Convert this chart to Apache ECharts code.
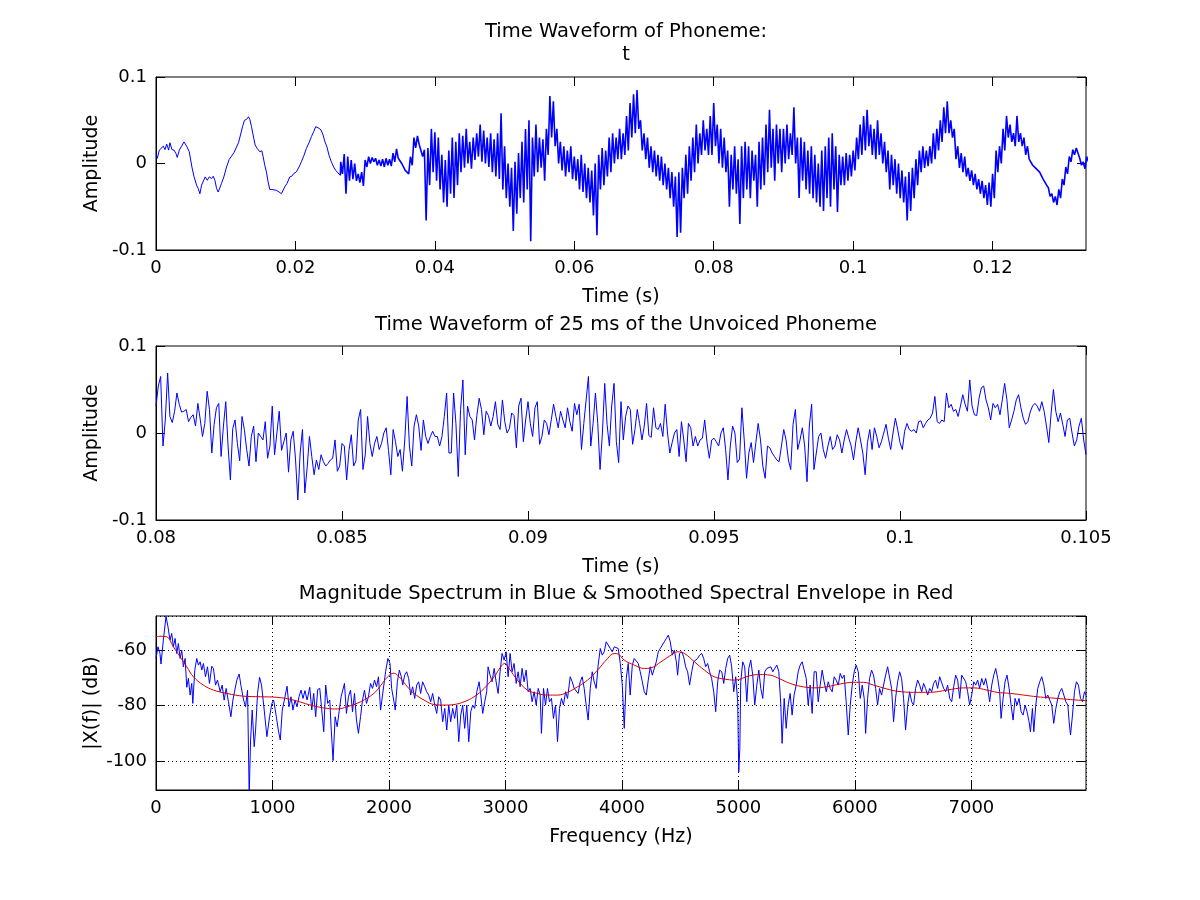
<!DOCTYPE html>
<html>
<head>
<meta charset="utf-8">
<title>Phoneme t</title>
<script src="https://cdn.jsdelivr.net/npm/echarts@6.0.0/dist/echarts.min.js"></script>
<style>
  html, body { margin: 0; padding: 0; background: #fff; }
  #chart { width: 1200px; height: 900px; }
</style>
</head>
<body>
<div id="chart"></div>
<script>
// ---- panel 1: whole phoneme (s, amplitude) ----
// quiet start of the phoneme, read point by point
const wave1Head = [
  [0,0.0116],[0.00019,0.006],[0.00048,0.0155],[0.00076,0.0136],[0.00105,0.020],[0.00129,0.016],
  [0.00153,0.0225],[0.00181,0.0155],[0.0020,0.024],[0.00229,0.016],[0.00258,0.0155],[0.00286,0.0116],
  [0.00305,0.007],[0.00334,0.0155],[0.00367,0.020],[0.00401,0.025],[0.00439,0.020],[0.00477,0.0136],
  [0.00496,0.0116],[0.00515,-0.004],[0.00544,-0.0147],[0.00582,-0.025],[0.00606,-0.029],[0.0063,-0.035],
  [0.00654,-0.025],[0.00678,-0.023],[0.00706,-0.0155],[0.00735,-0.0194],[0.00764,-0.0155],[0.00797,-0.0174],
  [0.00821,-0.0147],[0.00845,-0.0194],[0.00869,-0.029],[0.00892,-0.033],[0.00916,-0.034],[0.0094,-0.023],
  [0.00973,-0.0155],[0.01012,-0.004],[0.0105,0.0047],[0.01083,0.0085],[0.01117,0.0124],[0.01155,0.019],
  [0.01183,0.024],[0.01212,0.033],[0.01241,0.0426],[0.01269,0.050],[0.01298,0.051],[0.01327,0.054],
  [0.01346,0.051],[0.0137,0.0426],[0.01393,0.033],[0.01422,0.0213],[0.01451,0.0174],[0.01489,0.0136],
  [0.01518,0.0147],[0.01537,0.0078],[0.0156,-0.002],[0.01584,-0.0097],[0.01608,-0.0213],[0.01632,-0.030],
  [0.01661,-0.030],[0.01689,-0.031],[0.01727,-0.031],[0.01766,-0.033],[0.01799,-0.035],[0.01823,-0.033],
  [0.01847,-0.027],[0.0188,-0.023],[0.01918,-0.0155],[0.01947,-0.0147],[0.01976,-0.0116],[0.02014,-0.0097],
  [0.02052,-0.004],[0.02085,0.002],[0.02119,0.0085],[0.02157,0.0174],[0.02195,0.024],[0.02229,0.031],
  [0.02262,0.0368],[0.02291,0.0426],[0.02314,0.0446],[0.02338,0.0407],[0.02367,0.0388],[0.02396,0.033],
  [0.02424,0.025],[0.02453,0.019],[0.02481,0.0097],[0.02515,0.002],[0.02548,-0.004],[0.02577,-0.0078],
  [0.0261,-0.0109],[0.02644,-0.0136]
];
// noisy part: top and bottom of the trace every 0.5 ms from 26.5 ms
const wave1NoiseStart = 0.0265;
const wave1NoiseStep = 0.0005;
const wave1Upper = [
  0.002,0.011,0.008,0.004,0.000,-0.012,-0.010,0.004,0.008,0.007,
  0.006,0.004,0.005,0.006,0.005,0.012,0.017,0.008,0.000,-0.006,
  0.008,0.030,0.032,0.020,0.016,0.018,0.040,0.036,0.030,0.010,
  0.004,0.015,0.030,0.025,0.035,0.032,0.040,0.025,0.030,0.035,
  0.045,0.038,0.030,0.035,0.028,0.035,0.058,0.020,0.000,-0.005,
  0.002,0.012,0.025,0.040,0.050,0.030,0.045,0.030,0.028,0.040,
  0.078,0.072,0.040,0.025,0.020,0.015,0.020,0.008,0.005,0.010,
  0.000,-0.005,-0.008,0.000,0.010,0.018,0.015,0.030,0.035,0.030,
  0.040,0.035,0.055,0.070,0.080,0.085,0.050,0.035,0.030,0.020,
  0.015,0.010,0.008,0.000,-0.005,-0.010,-0.015,-0.010,-0.005,0.010,
  0.020,0.030,0.045,0.035,0.050,0.040,0.055,0.070,0.045,0.040,
  0.030,0.015,0.010,0.020,0.005,0.020,0.025,0.020,0.015,0.010,
  0.025,0.030,0.045,0.062,0.040,0.045,0.040,0.040,0.045,0.035,
  0.065,0.030,0.030,0.025,0.015,0.020,0.010,0.000,0.015,0.020,
  0.030,0.035,0.020,0.010,0.008,0.012,0.010,0.015,0.030,0.045,
  0.055,0.062,0.045,0.040,0.050,0.035,0.025,0.015,0.010,0.005,
  0.000,-0.008,-0.015,-0.010,-0.005,0.005,0.015,0.020,0.015,0.020,
  0.035,0.040,0.050,0.065,0.072,0.050,0.040,0.020,0.012,0.008,
  -0.005,-0.008,-0.012,-0.018,-0.020,-0.025,-0.022,-0.012,0.015,0.020,
  0.040,0.055,0.045,0.035,0.055,0.035,0.030,0.020,0.005,0.000,
  -0.005,-0.008,-0.018,-0.028,-0.035,-0.038,-0.030,-0.018,-0.004,0.008,
  0.016,0.018,0.006,0.002,0.008
];
const wave1Lower = [
  -0.012,-0.035,-0.020,-0.018,-0.020,-0.022,-0.026,-0.004,0.000,0.002,
  -0.002,-0.003,-0.004,-0.002,-0.003,0.002,0.006,0.000,-0.008,-0.012,
  -0.002,0.018,0.022,0.008,-0.066,-0.025,-0.010,-0.020,-0.030,-0.045,
  -0.050,-0.035,-0.040,-0.025,-0.010,-0.005,0.000,-0.006,0.004,0.008,
  0.002,0.000,-0.004,-0.010,-0.015,-0.018,-0.030,-0.040,-0.050,-0.078,
  -0.058,-0.040,-0.045,-0.030,-0.090,-0.015,-0.010,-0.005,-0.020,0.010,
  0.030,0.020,0.000,-0.008,-0.015,-0.010,-0.018,-0.020,-0.030,-0.033,
  -0.040,-0.045,-0.060,-0.083,-0.030,-0.025,-0.015,-0.010,0.000,0.005,
  0.005,0.010,0.015,0.030,0.035,0.040,0.015,0.005,-0.005,-0.010,
  -0.015,-0.020,-0.025,-0.030,-0.040,-0.050,-0.085,-0.080,-0.040,-0.035,
  -0.020,-0.010,0.000,0.010,0.015,0.010,0.010,0.020,0.000,-0.005,
  -0.010,-0.050,-0.030,-0.035,-0.070,-0.040,-0.030,-0.040,-0.020,-0.050,
  -0.030,-0.025,-0.010,-0.005,-0.020,0.000,-0.010,0.000,0.005,0.010,
  0.000,-0.040,-0.020,-0.030,-0.035,-0.040,-0.045,-0.050,-0.055,-0.040,
  -0.050,-0.030,-0.056,-0.025,-0.025,-0.020,-0.015,-0.008,0.005,0.010,
  0.015,0.020,0.010,0.005,0.010,0.000,-0.010,-0.030,-0.025,-0.035,
  -0.040,-0.045,-0.066,-0.055,-0.040,-0.025,-0.010,-0.005,-0.003,0.000,
  0.005,0.015,0.025,0.035,0.035,0.030,0.005,-0.005,-0.010,-0.015,
  -0.020,-0.025,-0.030,-0.035,-0.040,-0.048,-0.050,-0.040,-0.010,0.000,
  0.015,0.030,0.025,0.020,0.025,0.020,0.010,0.005,-0.002,-0.006,
  -0.010,-0.018,-0.025,-0.038,-0.045,-0.048,-0.040,-0.025,-0.012,0.002,
  0.010,0.012,-0.002,-0.006,0.002
];

// ---- panel 2: 25 ms excerpt, one value per sample (16 kHz) ----
const wave2Start = 0.08;
const wave2Step = 0.0000625;
const wave2 = [
  0.031,0.054,0.065,-0.015,0.015,0.069,0.019,0.012,0.025,0.046,
  0.033,0.024,0.025,0.027,0.013,0.018,0.021,0.008,0.034,0.016,
  -0.004,0.011,0.048,0.027,-0.023,0.010,0.029,0.034,-0.027,0.008,
  0.036,-0.015,-0.054,0.005,0.015,-0.012,-0.032,0.019,0.004,-0.019,
  -0.038,-0.004,0.008,-0.033,0.000,-0.004,-0.008,0.013,-0.029,-0.015,
  0.031,-0.025,0.000,0.025,-0.020,-0.010,0.000,-0.045,-0.008,0.002,
  -0.030,-0.077,-0.023,0.004,-0.069,-0.040,-0.004,-0.027,-0.048,-0.031,
  -0.042,-0.025,-0.033,-0.038,-0.035,-0.031,-0.029,-0.008,-0.044,-0.038,
  -0.012,-0.015,-0.054,-0.020,-0.002,-0.038,-0.032,0.015,0.027,-0.042,
  -0.025,0.019,-0.012,-0.027,-0.012,-0.004,-0.019,-0.012,0.000,0.006,
  -0.020,-0.048,0.004,-0.010,-0.027,-0.019,-0.044,-0.008,0.042,-0.015,
  -0.038,0.008,0.021,0.008,-0.020,0.015,-0.004,-0.012,-0.004,0.002,
  -0.004,-0.004,-0.015,-0.004,0.019,0.046,-0.023,-0.023,0.046,0.011,
  -0.050,0.027,0.061,-0.025,0.031,0.019,0.015,-0.008,0.020,0.040,
  0.027,-0.002,0.025,0.020,0.008,0.019,0.036,0.010,0.004,0.038,
  0.013,0.000,0.005,0.023,0.020,-0.017,0.031,0.040,-0.010,0.015,
  0.036,0.011,-0.004,0.029,0.036,-0.013,-0.004,0.015,0.011,-0.002,
  0.015,0.033,0.019,0.006,0.025,0.015,0.006,0.029,0.013,0.002,
  0.034,0.021,0.033,-0.019,0.011,0.038,0.065,-0.015,0.011,0.046,
  0.011,-0.042,0.000,0.057,0.010,-0.015,0.031,0.057,-0.010,-0.034,
  0.036,-0.008,0.019,0.031,0.027,-0.013,0.004,0.027,0.011,-0.008,
  0.008,0.034,-0.003,-0.005,0.029,0.006,0.004,0.011,-0.004,0.033,
  0.000,-0.023,-0.011,0.000,0.004,-0.027,0.013,-0.008,-0.033,0.011,
  0.006,-0.015,-0.004,-0.015,-0.008,-0.006,0.015,-0.011,-0.029,-0.008,
  -0.006,-0.010,-0.015,0.000,0.006,-0.019,-0.054,-0.015,0.008,0.000,
  -0.034,-0.030,0.029,-0.008,-0.052,-0.023,-0.011,-0.034,-0.011,0.011,
  -0.008,-0.038,-0.052,-0.015,-0.017,-0.023,-0.027,-0.031,-0.033,-0.015,
  0.004,-0.008,-0.031,-0.042,0.010,0.027,-0.019,-0.008,0.006,-0.015,
  -0.056,0.008,0.033,-0.042,-0.023,-0.004,0.000,-0.019,-0.029,-0.015,
  -0.004,-0.019,-0.015,-0.002,-0.008,-0.023,-0.008,0.004,-0.006,-0.015,
  -0.031,-0.010,0.006,-0.008,-0.023,-0.048,-0.011,0.004,-0.019,0.006,
  -0.004,-0.017,-0.010,0.000,0.010,-0.006,-0.019,0.000,0.017,0.004,
  -0.011,-0.019,0.002,0.011,0.004,0.002,0.004,0.000,0.013,0.014,
  0.006,0.011,0.015,0.017,0.023,0.042,0.013,0.011,0.015,0.013,
  0.046,0.029,0.033,0.025,0.027,0.019,0.031,0.044,0.033,0.025,
  0.061,0.031,0.021,0.020,0.040,0.052,0.054,0.038,0.029,0.015,
  0.034,0.029,0.033,0.021,0.038,0.057,0.038,0.006,0.015,0.025,
  0.038,0.044,0.029,0.017,0.010,0.013,0.024,0.031,0.034,0.031,
  0.025,0.036,0.025,0.008,-0.011,0.023,0.050,0.025,0.013,0.023,
  0.010,-0.004,0.015,0.017,0.000,-0.015,-0.008,0.008,0.017,-0.008,
  -0.025
];

// ---- panel 3: spectrum (Hz, dB) ----
const specBlue = [
  [0,-63.0],[17,-58.8],[34,-61.2],[43,-65.0],[63,-56.4],[86,-47.8],[103,-51.6],[120,-56.4],[135,-54.0],
  [149,-58.8],[164,-55.8],[178,-61.2],[192,-57.6],[207,-63.0],[221,-60.0],[235,-66.0],[250,-63.0],
  [264,-73.4],[278,-70.2],[293,-76.2],[307,-72.0],[316,-79.2],[333,-67.2],[350,-63.0],[364,-65.4],
  [379,-64.2],[393,-67.2],[407,-64.8],[425,-69.6],[442,-66.0],[459,-72.0],[479,-65.8],[493,-66.6],
  [511,-72.6],[528,-70.8],[551,-75.0],[568,-72.6],[585,-78.0],[602,-73.8],[622,-78.6],[643,-84.0],
  [660,-78.0],[677,-74.4],[694,-70.8],[714,-68.6],[731,-73.2],[752,-78.0],[769,-80.4],[786,-74.4],
  [800,-112],[812,-92.4],[826,-81.6],[843,-94.8],[855,-88.8],[872,-75.6],[889,-69.8],[906,-72.6],
  [929,-81.6],[952,-91.2],[975,-84.0],[995,-79.2],[1010,-78.0],[1033,-84.0],[1050,-88.8],[1067,-92.4],
  [1084,-81.6],[1102,-78.0],[1125,-73.0],[1142,-80.4],[1159,-76.8],[1176,-81.6],[1193,-78.0],[1211,-80.4],
  [1228,-76.8],[1245,-74.4],[1262,-77.4],[1279,-74.6],[1297,-78.0],[1320,-73.4],[1337,-81.6],[1354,-75.6],
  [1371,-84.0],[1388,-74.2],[1406,-73.8],[1423,-81.6],[1440,-89.4],[1457,-72.6],[1474,-79.2],[1492,-78.0],
  [1503,-87.6],[1520,-99.8],[1538,-84.0],[1555,-87.6],[1572,-82.2],[1589,-76.8],[1606,-76.8],[1618,-72.0],
  [1635,-82.8],[1652,-76.8],[1670,-74.4],[1687,-82.2],[1704,-75.6],[1721,-85.2],[1738,-90.0],[1756,-84.0],
  [1773,-78.0],[1790,-74.4],[1807,-79.2],[1824,-76.8],[1842,-72.0],[1859,-73.8],[1876,-70.8],[1893,-73.2],
  [1910,-69.6],[1928,-81.6],[1971,-67.8],[1991,-63.0],[2009,-64.8],[2023,-73.8],[2043,-78.6],[2054,-81.6],
  [2072,-71.4],[2089,-67.2],[2106,-69.6],[2118,-72.6],[2135,-69.0],[2152,-67.8],[2169,-70.2],[2186,-76.2],
  [2203,-73.2],[2221,-77.4],[2238,-72.6],[2255,-71.4],[2272,-75.6],[2289,-71.4],[2307,-73.2],[2324,-75.0],
  [2341,-76.2],[2358,-78.6],[2375,-75.6],[2393,-79.8],[2410,-82.8],[2427,-76.8],[2444,-78.0],[2461,-85.8],
  [2479,-81.0],[2496,-88.8],[2513,-79.8],[2530,-85.8],[2547,-81.0],[2564,-84.6],[2582,-79.8],[2599,-93.0],
  [2616,-83.4],[2633,-79.8],[2650,-88.2],[2668,-79.8],[2685,-93.0],[2702,-82.2],[2719,-79.8],[2736,-81.0],
  [2754,-75.0],[2774,-71.4],[2788,-76.2],[2805,-82.8],[2822,-78.6],[2839,-75.0],[2851,-66.0],[2868,-69.0],
  [2885,-71.4],[2903,-66.6],[2920,-71.4],[2937,-75.6],[2954,-67.8],[2971,-61.2],[2989,-63.6],[3006,-60.6],
  [3023,-69.6],[3040,-61.2],[3057,-67.8],[3074,-64.8],[3092,-72.0],[3109,-67.8],[3126,-73.2],[3143,-66.6],
  [3160,-71.4],[3178,-67.2],[3195,-75.0],[3212,-73.8],[3229,-78.6],[3246,-75.0],[3264,-79.8],[3281,-73.8],
  [3298,-76.2],[3309,-90.0],[3327,-73.8],[3344,-79.8],[3361,-73.8],[3378,-78.6],[3395,-77.4],[3412,-84.6],
  [3430,-79.8],[3447,-93.0],[3464,-81.0],[3481,-77.4],[3498,-79.8],[3516,-75.0],[3533,-77.4],[3556,-69.6],
  [3573,-71.4],[3590,-73.8],[3607,-73.2],[3624,-75.6],[3642,-71.4],[3659,-69.6],[3676,-73.8],[3693,-79.8],
  [3710,-85.2],[3728,-73.8],[3745,-67.8],[3762,-71.4],[3779,-73.8],[3796,-65.4],[3814,-59.4],[3831,-61.8],
  [3848,-60.6],[3865,-57.0],[3882,-56.4],[3900,-59.4],[3917,-60.6],[3934,-58.8],[3951,-58.2],[3968,-59.4],
  [3986,-64.8],[4003,-72.6],[4020,-88.2],[4037,-70.2],[4054,-64.8],[4071,-76.2],[4089,-65.4],[4106,-63.0],
  [4123,-62.4],[4140,-64.8],[4157,-67.8],[4175,-71.4],[4192,-75.0],[4209,-76.2],[4226,-70.8],[4243,-66.0],
  [4261,-69.0],[4278,-69.6],[4295,-64.2],[4312,-60.6],[4329,-59.4],[4346,-58.2],[4364,-57.0],[4381,-55.8],
  [4398,-54.6],[4415,-57.0],[4432,-61.8],[4450,-60.0],[4467,-64.2],[4478,-69.0],[4495,-61.2],[4513,-60.6],
  [4530,-62.4],[4547,-66.0],[4564,-67.8],[4581,-72.6],[4599,-67.8],[4616,-64.2],[4633,-63.6],[4650,-63.0],
  [4667,-61.8],[4685,-61.2],[4702,-63.0],[4719,-66.0],[4736,-64.8],[4753,-67.8],[4770,-70.2],[4788,-75.0],
  [4805,-82.2],[4822,-71.4],[4839,-67.2],[4857,-67.8],[4874,-72.0],[4891,-66.6],[4908,-63.0],[4925,-61.8],
  [4942,-66.0],[4960,-75.0],[4977,-69.6],[4994,-78.6],[5003,-104.0],[5012,-95.4],[5020,-71.4],[5037,-64.2],
  [5054,-66.0],[5072,-78.6],[5089,-66.6],[5106,-63.6],[5123,-69.0],[5140,-79.8],[5158,-72.6],[5175,-67.2],
  [5192,-73.8],[5209,-77.4],[5226,-67.8],[5244,-66.6],[5261,-67.2],[5278,-66.0],[5295,-67.8],[5312,-66.6],
  [5330,-65.4],[5347,-67.8],[5364,-79.8],[5375,-93.6],[5393,-77.4],[5410,-88.2],[5427,-79.8],[5444,-75.6],
  [5461,-83.4],[5478,-76.2],[5496,-72.6],[5513,-67.8],[5530,-65.4],[5547,-64.2],[5564,-63.6],[5582,-70.2],
  [5599,-79.8],[5616,-72.6],[5633,-82.8],[5650,-67.8],[5668,-67.8],[5685,-78.6],[5702,-72.6],[5719,-67.2],
  [5736,-71.4],[5754,-75.0],[5771,-71.4],[5788,-73.8],[5805,-75.0],[5822,-69.6],[5839,-70.8],[5857,-72.6],
  [5874,-68.4],[5891,-70.2],[5908,-69.0],[5925,-78.6],[5943,-90.6],[5960,-79.8],[5977,-72.6],[5994,-67.8],
  [6011,-65.4],[6029,-67.8],[6046,-77.4],[6063,-72.6],[6080,-77.4],[6092,-90.0],[6109,-77.4],[6126,-70.2],
  [6143,-67.2],[6160,-69.0],[6178,-73.8],[6195,-79.8],[6212,-73.8],[6229,-76.2],[6246,-72.6],[6264,-69.0],
  [6281,-66.0],[6298,-65.4],[6315,-73.8],[6332,-85.8],[6349,-77.4],[6367,-71.4],[6384,-67.8],[6401,-70.2],
  [6418,-77.4],[6435,-88.8],[6453,-79.8],[6470,-75.0],[6487,-78.6],[6504,-79.8],[6521,-73.8],[6539,-70.8],
  [6556,-72.6],[6573,-75.0],[6590,-72.0],[6607,-73.8],[6625,-76.2],[6642,-73.8],[6659,-75.0],[6676,-72.0],
  [6693,-70.8],[6710,-73.8],[6728,-69.6],[6745,-70.2],[6762,-73.8],[6779,-75.0],[6796,-72.6],[6814,-77.4],
  [6831,-78.6],[6848,-73.2],[6865,-69.0],[6882,-70.8],[6900,-77.4],[6917,-69.0],[6934,-69.6],[6951,-71.4],
  [6968,-75.0],[6985,-79.8],[7003,-76.2],[7020,-71.4],[7037,-72.6],[7054,-70.8],[7071,-73.8],[7089,-70.2],
  [7106,-72.6],[7123,-70.2],[7140,-73.8],[7157,-78.6],[7175,-72.6],[7192,-69.0],[7209,-66.6],[7226,-70.2],
  [7243,-75.0],[7255,-84.6],[7272,-77.4],[7289,-71.4],[7306,-69.0],[7324,-73.8],[7341,-79.8],[7358,-85.2],
  [7375,-77.4],[7392,-79.8],[7409,-77.4],[7427,-82.2],[7444,-83.4],[7461,-79.8],[7478,-82.2],[7495,-85.8],
  [7507,-89.4],[7524,-81.0],[7536,-89.4],[7553,-79.8],[7570,-73.8],[7587,-71.4],[7604,-69.6],[7622,-72.6],
  [7639,-77.4],[7656,-76.2],[7673,-75.6],[7690,-79.8],[7707,-86.4],[7725,-81.0],[7742,-77.4],[7759,-75.0],
  [7776,-73.8],[7793,-74.4],[7811,-78.6],[7828,-79.8],[7839,-85.8],[7851,-90.6],[7868,-83.4],[7885,-75.0],
  [7902,-71.4],[7919,-72.6],[7937,-77.4],[7954,-78.6],[7971,-75.0],[7984,-76.2]
];
const specRed = [
  [0,-55.2],[34,-55.0],[92,-55.2],[149,-58.8],[207,-62.4],[264,-66.0],[321,-69.6],[407,-72.6],
  [493,-74.4],[608,-75.6],[752,-76.6],[895,-76.8],[1038,-77.0],[1182,-78.0],[1325,-79.8],[1469,-81.0],
  [1555,-81.2],[1641,-80.4],[1756,-78.6],[1870,-75.6],[1928,-72.8],[1985,-69.8],[2040,-68.3],[2100,-70.2],
  [2158,-73.2],[2215,-75.6],[2301,-78.0],[2387,-79.6],[2473,-79.8],[2559,-79.6],[2645,-78.6],[2731,-76.8],
  [2817,-73.8],[2903,-69.6],[2960,-66.0],[2994,-64.8],[3031,-66.6],[3103,-70.8],[3189,-74.4],[3275,-75.6],
  [3361,-76.2],[3447,-76.2],[3533,-75.2],[3619,-73.2],[3705,-70.8],[3791,-67.2],[3877,-63.0],[3934,-61.2],
  [3968,-61.4],[4020,-63.6],[4106,-65.4],[4192,-66.6],[4249,-66.4],[4335,-64.2],[4421,-61.8],[4478,-60.6],
  [4536,-61.2],[4622,-64.2],[4708,-67.2],[4793,-69.6],[4879,-70.4],[4965,-70.8],[5100,-69.2],[5186,-68.8],
  [5272,-69.0],[5358,-70.4],[5444,-72.0],[5530,-73.0],[5645,-73.6],[5759,-73.2],[5874,-72.2],[5988,-71.6],
  [6074,-71.6],[6160,-72.6],[6275,-74.0],[6361,-74.8],[6504,-75.2],[6647,-75.2],[6791,-74.4],[6934,-73.6],
  [7020,-73.6],[7134,-74.4],[7220,-75.2],[7335,-75.6],[7450,-76.2],[7564,-76.8],[7679,-77.2],[7793,-77.6],
  [7908,-78.0],[7984,-78.2]
];

// ---- build series data ----
// the noisy stretch starts from the last point of the quiet head so the trace stays joined
const wave1Noise = [wave1Head[wave1Head.length - 1]];
wave1Upper.forEach((up, k) => {
  const t = wave1NoiseStart + k * wave1NoiseStep;
  wave1Noise.push([t, up]);
  wave1Noise.push([t + wave1NoiseStep / 2, wave1Lower[k]]);
});
const wave2Data = wave2.map((a, i) => [wave2Start + i * wave2Step, a]);

// ---- styling helpers ----
const font = 'DejaVu Sans';
const black = '#000';
const blue = '#0000ff';
const labelFmt = v => String(+Number(v).toFixed(6));
const tickStyle = { inside: true, length: 9, lineStyle: { color: black, width: 1 } };
const gridLineStyle = { color: black, width: 1, type: [1, 3] };
const nameStyle = { fontFamily: font, fontSize: 19, color: black };

function xPair(grid, range, name, showMax, dotted) {
  const base = Object.assign({ type: 'value', gridIndex: grid }, range);
  return [
    Object.assign({}, base, {
      position: 'bottom',
      name: name,
      nameLocation: 'middle',
      nameGap: 38,
      nameTextStyle: nameStyle,
      axisLine: { show: true, onZero: false, lineStyle: { color: black } },
      axisTick: tickStyle,
      axisLabel: { margin: 9, fontFamily: font, fontSize: 18, color: black,
                   formatter: labelFmt, showMinLabel: true, showMaxLabel: showMax },
      splitLine: { show: dotted, lineStyle: gridLineStyle }
    }),
    Object.assign({}, base, {
      position: 'top',
      axisLine: { show: false, onZero: false },
      axisTick: tickStyle,
      axisLabel: { show: false },
      splitLine: { show: false }
    })
  ];
}

function yPair(grid, range, name, edgeLabels, dotted) {
  const base = Object.assign({ type: 'value', gridIndex: grid }, range);
  return [
    Object.assign({}, base, {
      position: 'left',
      name: name,
      nameLocation: 'middle',
      nameGap: 54,
      nameMoveOverlap: false,
      nameTextStyle: nameStyle,
      axisLine: { show: true, onZero: false, lineStyle: { color: black } },
      axisTick: tickStyle,
      axisLabel: { margin: 9, fontFamily: font, fontSize: 18, color: black,
                   formatter: labelFmt, showMinLabel: edgeLabels, showMaxLabel: edgeLabels },
      splitLine: { show: dotted, lineStyle: gridLineStyle }
    }),
    Object.assign({}, base, {
      position: 'right',
      axisLine: { show: false, onZero: false },
      axisTick: tickStyle,
      axisLabel: { show: false },
      splitLine: { show: false }
    })
  ];
}

function titleAt(text, top) {
  return {
    text: text, left: 621, top: top, textAlign: 'center',
    textStyle: { fontFamily: font, fontSize: 19.5, fontWeight: 'normal', color: black, lineHeight: 23 }
  };
}

const gridBox = { left: 156, right: 114, show: true, borderColor: black, borderWidth: 1,
                  backgroundColor: 'transparent' };

const chart = echarts.init(document.getElementById('chart'));

const option = {
  backgroundColor: '#fff',
  animation: false,
  textStyle: { fontFamily: font, color: black },
  title: [
    titleAt('Time Waveform of Phoneme:\nt', 15),
    titleAt('Time Waveform of 25 ms of the Unvoiced Phoneme', 308),
    titleAt('Magnitude Spectrum in Blue & Smoothed Spectral Envelope in Red', 577)
  ],
  grid: [
    Object.assign({ top: 77, height: 173 }, gridBox),
    Object.assign({ top: 346, height: 174 }, gridBox),
    Object.assign({ top: 616, height: 174 }, gridBox)
  ],
  xAxis: [].concat(
    xPair(0, { min: 0, max: 0.1334, interval: 0.02 }, 'Time (s)', false, false),
    xPair(1, { min: 0.08, max: 0.105, interval: 0.005 }, 'Time (s)', true, false),
    xPair(2, { min: 0, max: 7984, interval: 1000 }, 'Frequency (Hz)', false, true)
  ),
  yAxis: [].concat(
    yPair(0, { min: -0.1, max: 0.1, interval: 0.1 }, 'Amplitude', true, false),
    yPair(1, { min: -0.1, max: 0.1, interval: 0.1 }, 'Amplitude', true, false),
    yPair(2, { min: -110.4, max: -47.7, splitNumber: 3 }, '|X(f)| (dB)', false, true)
  ),
  series: [
    { type: 'line', xAxisIndex: 0, yAxisIndex: 0, data: wave1Head, showSymbol: false, symbol: 'none',
      lineStyle: { color: blue, width: 1 }, clip: true },
    { type: 'line', xAxisIndex: 0, yAxisIndex: 0, data: wave1Noise, showSymbol: false, symbol: 'none',
      lineStyle: { color: blue, width: 1.6 }, clip: true },
    { type: 'line', xAxisIndex: 2, yAxisIndex: 2, data: wave2Data, showSymbol: false, symbol: 'none',
      lineStyle: { color: blue, width: 1 }, clip: true },
    { type: 'line', xAxisIndex: 4, yAxisIndex: 4, data: specBlue, showSymbol: false, symbol: 'none',
      lineStyle: { color: blue, width: 1 }, clip: true },
    { type: 'line', xAxisIndex: 4, yAxisIndex: 4, data: specRed, showSymbol: false, symbol: 'none',
      smooth: 0.4, lineStyle: { color: '#d40000', width: 1 }, clip: true }
  ]
};

option && chart.setOption(option);
</script>
</body>
</html>
